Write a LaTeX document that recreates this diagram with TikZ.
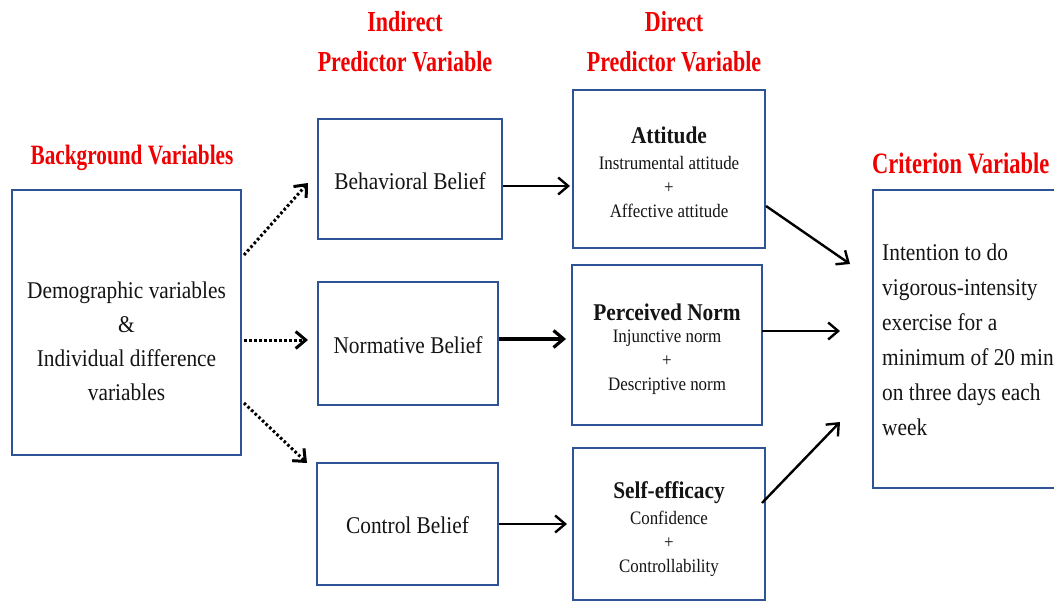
\documentclass[tikz,border=0pt]{standalone}
\usepackage{fontspec}
\setmainfont{Liberation Serif}
\newfontfamily\cuerpo[FakeStretch=0.89]{Liberation Serif}
\newfontfamily\rotulo[FakeStretch=0.76]{Liberation Serif}
\usetikzlibrary{arrows.meta}
\definecolor{azulcaja}{HTML}{2F5496}
\definecolor{rojotit}{HTML}{F00000}
\definecolor{tinta}{HTML}{141414}
\tikzset{
  caja/.style={draw=azulcaja,line width=2.8pt,fill=white,inner sep=0pt},
  encabezado/.style={text=rojotit,font=\rotulo\bfseries\fontsize{29}{40}\selectfont,align=center,inner sep=0pt},
  texto/.style={text=tinta,font=\cuerpo\fontsize{24}{34}\selectfont,align=center,inner sep=0pt},
  titulocaja/.style={text=tinta,font=\cuerpo\bfseries\fontsize{24}{28}\selectfont,inner sep=0pt},
  detalle/.style={text=tinta,font=\cuerpo\fontsize{19}{24}\selectfont,align=center,inner sep=0pt},
  flecha/.style={draw=black,line width=2.4pt,-{Straight Barb[length=10pt,width=17pt]}},
  flechapunt/.style={flecha,line width=3pt,dash pattern=on 2.6pt off 2.4pt},
}
\begin{document}
\begin{tikzpicture}[x=1pt,y=-1pt]
\useasboundingbox (0,0) rectangle (1054,605);
\clip (0,0) rectangle (1054,605);
% headings
\node[encabezado,font=\rotulo\bfseries\fontsize{28}{40}\selectfont] (hbg) at (132,158) {Background Variables};
\node[encabezado] (hind) at (405,42) {Indirect\\Predictor Variable};
\node[encabezado] (hdir) at (674,42) {Direct\\Predictor Variable};
\node[encabezado,anchor=west,font=\rotulo\bfseries\fontsize{29.6}{40}\selectfont] (hcrit) at (872,163) {Criterion Variable};
% boxes
\node[caja,minimum width=229,minimum height=265] (bg) at (126.5,322.5) {};
\node[texto] (bgtxt) at (126.5,341) {Demographic variables\\\&\\Individual difference\\variables};
\node[caja,minimum width=184,minimum height=120] (bb) at (410,179) {};
\node[texto] (bbtxt) at (410,181) {Behavioral Belief};
\node[caja,minimum width=180,minimum height=123] (nb) at (408,343.5) {};
\node[texto] (nbtxt) at (408,345) {Normative Belief};
\node[caja,minimum width=181,minimum height=122] (cb) at (407.5,524) {};
\node[texto] (cbtxt) at (407.5,525) {Control Belief};
\node[caja,minimum width=192,minimum height=158] (att) at (669,169) {};
\node[titulocaja] (atttit) at (669,135) {Attitude};
\node[detalle] (attdet) at (669,187) {Instrumental attitude\\+\\Affective attitude};
\node[caja,minimum width=190,minimum height=160] (pn) at (667,345) {};
\node[titulocaja] (pntit) at (667,312) {Perceived Norm};
\node[detalle] (pndet) at (667,362) {Injunctive norm\\+\\Descriptive norm};
\node[caja,minimum width=192,minimum height=152] (se) at (669,524) {};
\node[titulocaja] (setit) at (669,493) {Self-efficacy};
\node[detalle] (sedet) at (669,544) {Confidence\\+\\Controllability};
\node[caja,minimum width=210,minimum height=298] (crit) at (978,339) {};
\node[texto,align=left,anchor=west,font=\cuerpo\fontsize{24}{35}\selectfont] (crittxt) at (882,340) {Intention to do\\vigorous-intensity\\exercise for a\\minimum of 20 min\\on three days each\\week};
% arrow ends
\coordinate (p1) at (244,255);
\coordinate (p2) at (244,340);
\coordinate (p3) at (244,403);
\coordinate (q1) at (308,183);
\coordinate (q2) at (308,340);
\coordinate (q3) at (307,463);
\coordinate (fa) at (570,186);
\coordinate (fn) at (566,339);
\coordinate (fc) at (567,524);
\coordinate (oa) at (766,206);
\coordinate (on) at (762,331);
\coordinate (os) at (762,503);
\coordinate (ca) at (850,264);
\coordinate (cn) at (840,331);
\coordinate (cs) at (840,422);
% arrows
\draw[flechapunt] (p1) -- (q1);
\draw[flechapunt] (p2) -- (q2);
\draw[flechapunt] (p3) -- (q3);
\draw[flecha] (bb.east |- fa) -- (fa);
\draw[flecha,line width=3.2pt] (nb.east |- fn) -- (fn);
\draw[flecha] (cb.east |- fc) -- (fc);
\draw[flecha] (oa) -- (ca);
\draw[flecha] (on) -- (cn);
\draw[flecha] (os) -- (cs);
\end{tikzpicture}
\end{document}
